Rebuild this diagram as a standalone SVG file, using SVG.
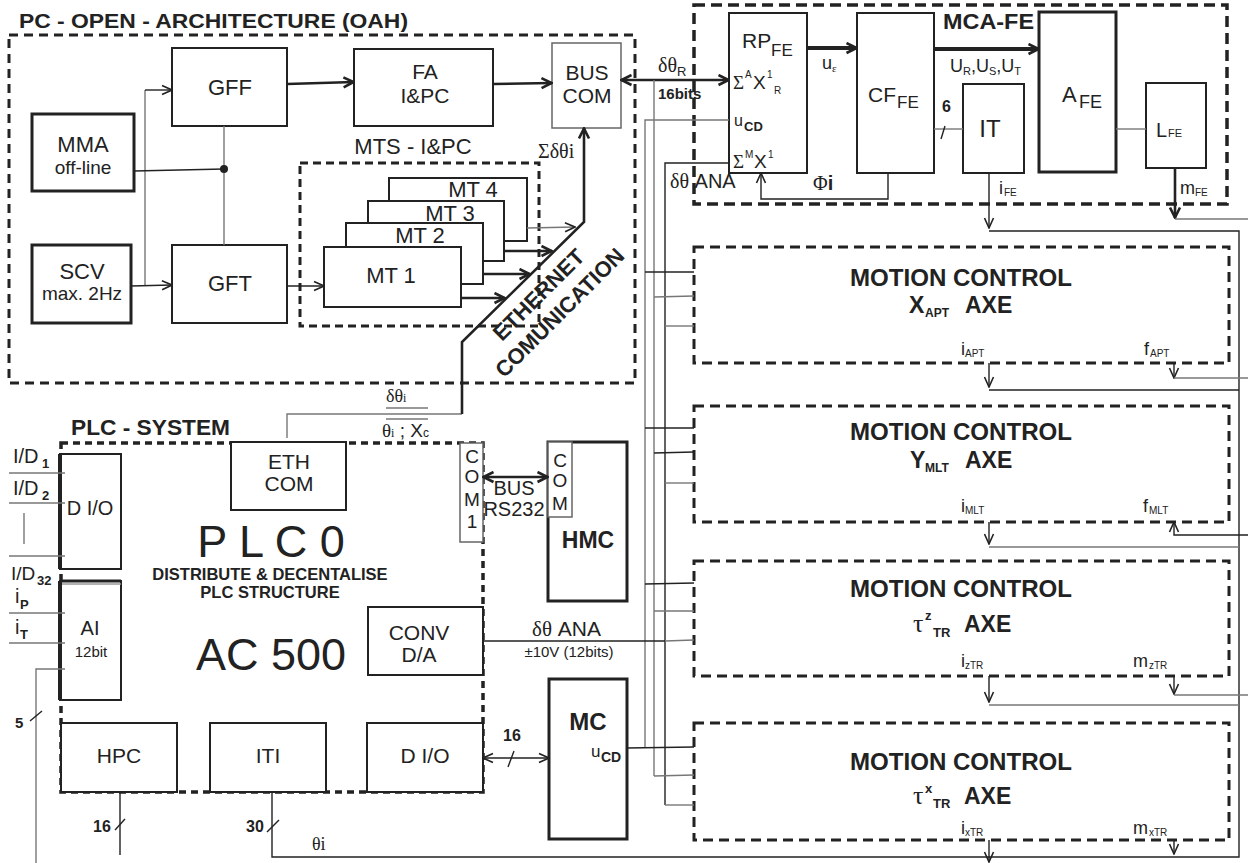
<svg xmlns="http://www.w3.org/2000/svg" width="1248" height="863" viewBox="0 0 1248 863">
<defs>
<marker id="a" viewBox="0 0 12 12" refX="11" refY="6" markerWidth="12" markerHeight="12" markerUnits="userSpaceOnUse" orient="auto-start-reverse">
<path d="M1,1.5 L11,6 L1,10.5" fill="none" stroke="#222" stroke-width="1.6"/>
</marker>
<marker id="ab" viewBox="0 0 13 13" refX="12" refY="6.5" markerWidth="13" markerHeight="13" markerUnits="userSpaceOnUse" orient="auto-start-reverse">
<path d="M1.5,1.5 L11.5,6.5 L1.5,11.5" fill="none" stroke="#222" stroke-width="2.6"/>
</marker>
</defs>
<style>
text{font-family:"Liberation Sans",Arial,Helvetica,sans-serif;fill:#222}
.s{font-family:"Liberation Serif","Times New Roman",serif}
.b{font-weight:bold}
.c{text-anchor:middle}
.box{fill:#fff;stroke:#222;stroke-width:2}
.bx3{fill:#fff;stroke:#222;stroke-width:3}
.gbox{fill:#fff;stroke:#666;stroke-width:1.5}
.dsh{fill:none;stroke:#222;stroke-width:3;stroke-dasharray:9 6}
.ln{fill:none;stroke:#222;stroke-width:1.4}
.gl{fill:none;stroke:#777;stroke-width:1.4}
.th{fill:none;stroke:#222;stroke-width:2.6}
.tk{fill:none;stroke:#222;stroke-width:4}
</style>
<rect width="1248" height="863" fill="#fff"/>

<!-- PC OPEN ARCHITECTURE -->
<g id="pc-oah">
<text x="19" y="28" class="b" font-size="21" textLength="389" lengthAdjust="spacingAndGlyphs">PC - OPEN - ARCHITECTURE (OAH)</text>
<rect x="9" y="35" width="626" height="348" class="dsh"/>
</g>
<g id="mts">
<rect x="300" y="163" width="239" height="163" fill="none" stroke="#222" stroke-width="3" stroke-dasharray="8 5"/>
<text x="413" y="154" class="c" font-size="22">MTS - I&amp;PC</text>
</g>
<g id="gff"><rect x="172" y="48" width="115" height="78" class="box"/><text x="230" y="95" class="c" font-size="22">GFF</text></g>
<g id="mma"><rect x="32" y="114" width="102" height="77" class="bx3"/><text x="83" y="152" class="c" font-size="22">MMA</text><text x="83" y="174" class="c" font-size="19">off-line</text></g>
<g id="scv"><rect x="32" y="245" width="99" height="78" class="bx3"/><text x="82" y="279" class="c" font-size="22">SCV</text><text x="82" y="300" class="c" font-size="19">max. 2Hz</text></g>
<g id="gft"><rect x="172" y="245" width="115" height="78" class="box"/><text x="230" y="291" class="c" font-size="22">GFT</text></g>
<g id="fa"><rect x="354" y="49" width="139" height="77" class="box"/><text x="425" y="79" class="c" font-size="21">FA</text><text x="425" y="103" class="c" font-size="21">I&amp;PC</text></g>
<g id="buscom"><rect x="552" y="43" width="69" height="85" class="gbox"/><text x="587" y="80" class="c" font-size="21">BUS</text><text x="587" y="103" class="c" font-size="21">COM</text></g>
<g id="mt4"><rect x="389" y="178" width="138" height="63" class="box" stroke-width="2.5"/><text x="473" y="197" class="c" font-size="22">MT 4</text></g>
<g id="mt3"><rect x="368" y="201" width="136" height="60" class="box" stroke-width="2.5"/><text x="450" y="221" class="c" font-size="22">MT 3</text></g>
<g id="mt2"><rect x="346" y="223" width="137" height="61" class="box" stroke-width="2.5"/><text x="420" y="243" class="c" font-size="22">MT 2</text></g>
<g id="mt1"><rect x="324" y="247" width="137" height="60" class="box" stroke-width="2.5"/><text x="391" y="283" class="c" font-size="22">MT 1</text></g>

<!-- PLC SYSTEM -->
<g id="plc-system">
<text x="71" y="435" class="b" font-size="22" textLength="159" lengthAdjust="spacingAndGlyphs">PLC - SYSTEM</text>
<rect x="61" y="443" width="422" height="349" fill="none" stroke="#222" stroke-width="3.5" stroke-dasharray="7 5"/>
<text x="271" y="557" class="c" font-size="45">P L C 0</text>
<text x="270" y="580" class="c b" font-size="16.5">DISTRIBUTE &amp; DECENTALISE</text>
<text x="270" y="598" class="c b" font-size="16.5">PLC STRUCTURE</text>
<text x="271" y="670" class="c" font-size="45">AC 500</text>
</g>
<g id="ethcom"><rect x="231" y="442" width="115" height="68" class="box"/><text x="289" y="469" class="c" font-size="21">ETH</text><text x="289" y="491" class="c" font-size="21">COM</text></g>
<g id="dio-left"><rect x="60" y="454" width="61" height="115" class="box"/><line x1="60" y1="454" x2="60" y2="569" stroke="#222" stroke-width="4"/><text x="90" y="515" class="c" font-size="20">D I/O</text></g>
<g id="ai"><rect x="60" y="581" width="61" height="119" class="box"/><line x1="60" y1="581" x2="60" y2="700" stroke="#222" stroke-width="4"/><line x1="60" y1="581" x2="121" y2="581" stroke="#222" stroke-width="3"/><line x1="62" y1="584" x2="121" y2="584" stroke="#999" stroke-width="1.5"/><text x="90" y="635" class="c" font-size="20">AI</text><text x="91" y="657" class="c" font-size="15">12bit</text></g>
<g id="hpc"><rect x="61" y="723" width="116" height="69" class="box"/><text x="119" y="763" class="c" font-size="21">HPC</text></g>
<g id="iti"><rect x="210" y="723" width="116" height="69" class="box"/><text x="268" y="763" class="c" font-size="21">ITI</text></g>
<g id="dio-right"><rect x="367" y="723" width="116" height="69" class="box"/><text x="425" y="763" class="c" font-size="21">D I/O</text></g>
<g id="convda"><rect x="368" y="607" width="115" height="68" class="box"/><text x="419" y="640" class="c" font-size="21">CONV</text><text x="419" y="662" class="c" font-size="21">D/A</text></g>
<g id="com1"><rect x="460" y="443" width="23" height="99" class="gbox"/>
<text x="472" y="463" class="c" font-size="19">C</text><text x="472" y="483" class="c" font-size="19">O</text><text x="472" y="506" class="c" font-size="19">M</text><text x="472" y="528" class="c" font-size="19">1</text></g>
<g id="hmc"><rect x="548" y="442" width="79" height="159" class="bx3"/><rect x="548" y="442" width="24" height="75" class="gbox"/>
<text x="560" y="467" class="c" font-size="19">C</text><text x="560" y="487" class="c" font-size="19">O</text><text x="560" y="510" class="c" font-size="19">M</text>
<text x="588" y="548" class="c b" font-size="23">HMC</text></g>
<g id="mc"><rect x="549" y="679" width="78" height="160" class="bx3"/><text x="588" y="730" class="c b" font-size="24">MC</text>
<text x="591" y="757" font-size="17">u</text><text x="601" y="762" class="b" font-size="14">CD</text></g>

<!-- MCA-FE -->
<g id="mca-fe">
<rect x="694" y="5" width="533" height="199" fill="none" stroke="#222" stroke-width="3.5" stroke-dasharray="11 6"/>
<text x="943" y="29" class="b" font-size="22" textLength="91" lengthAdjust="spacingAndGlyphs">MCA-FE</text>
</g>
<g id="rp-fe"><rect x="729" y="13" width="78" height="160" class="box" stroke-width="2.5"/>
<text x="742" y="48" font-size="21">RP</text><text x="771" y="56" font-size="17">FE</text>
<text x="733" y="89" class="s" font-size="19">Σ</text><text x="745" y="78" font-size="10">A</text><text x="753" y="89" font-size="19">X</text><text x="767" y="78" font-size="10">1</text><text x="774" y="94" font-size="10">R</text>
<text x="734" y="126" font-size="16">u</text><text x="744" y="131" class="b" font-size="13">CD</text>
<text x="733" y="168" class="s" font-size="19">Σ</text><text x="745" y="158" font-size="10">M</text><text x="754" y="168" font-size="19">X</text><text x="768" y="158" font-size="10">1</text>
</g>
<g id="cf-fe"><rect x="857" y="13" width="77" height="160" class="box" stroke-width="2.5"/><text x="868" y="102" font-size="21">CF</text><text x="897" y="108" font-size="17">FE</text></g>
<g id="a-fe"><rect x="1039" y="12" width="77" height="160" class="bx3"/><text x="1062" y="102" font-size="22">A</text><text x="1079" y="108" font-size="18">FE</text></g>
<g id="it"><rect x="963" y="84" width="61" height="89" class="box" stroke-width="2.5"/><text x="990" y="137" class="c" font-size="24">IT</text></g>
<g id="l-fe"><rect x="1146" y="83" width="60" height="85" class="box" stroke-width="2.5"/><text x="1156" y="137" font-size="20">L</text><text x="1168" y="137" font-size="11">FE</text></g>

<!-- MOTION CONTROL boxes -->
<g id="mc-xapt">
<rect x="694" y="247" width="535" height="116" fill="none" stroke="#222" stroke-width="3" stroke-dasharray="10 6"/>
<text x="961" y="286" class="c b" font-size="23" textLength="222" lengthAdjust="spacingAndGlyphs">MOTION CONTROL</text>
<text x="909" y="313" class="b" font-size="23">X</text><text x="925" y="317" class="b" font-size="12">APT</text><text x="965" y="313" class="b" font-size="23">AXE</text>
<text x="961" y="355" font-size="18">i</text><text x="965" y="357" font-size="10">APT</text>
<text x="1144" y="355" font-size="18">f</text><text x="1150" y="357" font-size="10">APT</text>
</g>
<g id="mc-ymlt">
<rect x="694" y="406" width="535" height="116" fill="none" stroke="#222" stroke-width="3" stroke-dasharray="10 6"/>
<text x="961" y="440" class="c b" font-size="23" textLength="222" lengthAdjust="spacingAndGlyphs">MOTION CONTROL</text>
<text x="910" y="468" class="b" font-size="23">Y</text><text x="925" y="472" class="b" font-size="12">MLT</text><text x="965" y="468" class="b" font-size="23">AXE</text>
<text x="961" y="512" font-size="18">i</text><text x="965" y="514" font-size="10">MLT</text>
<text x="1143" y="512" font-size="18">f</text><text x="1149" y="514" font-size="10">MLT</text>
</g>
<g id="mc-tauz">
<rect x="694" y="561" width="535" height="115" fill="none" stroke="#222" stroke-width="3" stroke-dasharray="10 6"/>
<text x="961" y="597" class="c b" font-size="23" textLength="222" lengthAdjust="spacingAndGlyphs">MOTION CONTROL</text>
<text x="913" y="632" class="s" font-size="26">τ</text><text x="925" y="620" class="b" font-size="13">z</text><text x="933" y="637" class="b" font-size="13">TR</text><text x="964" y="632" class="b" font-size="23">AXE</text>
<text x="961" y="667" font-size="18">i</text><text x="965" y="669" font-size="10">zTR</text>
<text x="1133" y="667" font-size="18">m</text><text x="1149" y="669" font-size="10">zTR</text>
</g>
<g id="mc-taux">
<rect x="694" y="723" width="535" height="117" fill="none" stroke="#222" stroke-width="3" stroke-dasharray="10 6"/>
<text x="961" y="770" class="c b" font-size="23" textLength="222" lengthAdjust="spacingAndGlyphs">MOTION CONTROL</text>
<text x="913" y="804" class="s" font-size="26">τ</text><text x="925" y="793" class="b" font-size="13">x</text><text x="933" y="808" class="b" font-size="13">TR</text><text x="964" y="804" class="b" font-size="23">AXE</text>
<text x="961" y="834" font-size="18">i</text><text x="965" y="836" font-size="10">xTR</text>
<text x="1133" y="834" font-size="18">m</text><text x="1149" y="836" font-size="10">xTR</text>
</g>

<!-- CONNECTORS -->
<g id="connectors">
<!-- OAH -->
<path d="M145,285 V90" class="gl"/>
<line x1="145" y1="90" x2="172" y2="90" class="ln" marker-end="url(#a)"/>
<line x1="131" y1="286" x2="172" y2="285" class="ln" marker-end="url(#a)"/>
<line x1="224" y1="126" x2="224" y2="245" class="gl"/>
<line x1="134" y1="171" x2="224" y2="169" class="ln" stroke-width="1.8"/>
<circle cx="224" cy="169" r="4" fill="#222"/>
<line x1="287" y1="84" x2="354" y2="82" class="th" marker-end="url(#ab)"/>
<line x1="493" y1="84" x2="552" y2="83" class="th" marker-end="url(#ab)"/>
<line x1="287" y1="286" x2="324" y2="286" class="ln" marker-end="url(#a)"/>
<line x1="527" y1="228" x2="575" y2="227" class="gl" marker-end="url(#a)"/>
<line x1="504" y1="251" x2="552" y2="251" class="th" marker-end="url(#ab)"/>
<line x1="483" y1="274" x2="530" y2="274" class="th" marker-end="url(#ab)"/>
<line x1="461" y1="298" x2="505" y2="298" class="th" marker-end="url(#ab)"/>
<path d="M287,438 V414 H462" class="gl"/>
<path d="M462,414 V342 L584,222 V128" class="th" marker-end="url(#ab)"/>
<text x="544" y="300" class="c b" font-size="22" transform="rotate(-45 544 300)">ETHERNET</text>
<text x="565" y="318" class="c b" font-size="22" transform="rotate(-45 565 318)">COMUNICATION</text>
<text x="538" y="158" class="s" font-size="20">Σδθi</text>
<line x1="621" y1="80" x2="729" y2="80" class="th" marker-start="url(#ab)" marker-end="url(#ab)"/>
<text x="658" y="72" class="s" font-size="20">δθ<tspan font-size="13" dy="4" font-family="Liberation Sans, Arial, sans-serif">R</tspan></text>
<text x="658" y="99" class="b" font-size="15">16bits</text>
<text x="386" y="402" class="s" font-size="18">δθ<tspan font-size="12">i</tspan></text>
<line x1="386" y1="408" x2="428" y2="408" class="gl"/>
<line x1="386" y1="419" x2="428" y2="419" class="gl"/>
<text x="382" y="437" font-size="19"><tspan class="s">θ</tspan><tspan font-size="12" class="s">i</tspan> ; X<tspan font-size="12">c</tspan></text>

<!-- MCA-FE internal -->
<line x1="807" y1="48" x2="857" y2="48" class="tk" marker-end="url(#ab)"/>
<text x="822" y="69" font-size="18">u</text><text x="832" y="72" class="s" font-size="11">ε</text>
<line x1="934" y1="49" x2="1039" y2="49" class="tk" marker-end="url(#ab)"/>
<text x="950" y="72" font-size="18">U<tspan font-size="11" dy="3">R</tspan><tspan dy="-3">,U</tspan><tspan font-size="11" dy="3">S</tspan><tspan dy="-3">,U</tspan><tspan font-size="11" dy="3">T</tspan></text>
<line x1="934" y1="129" x2="963" y2="129" class="gl"/>
<text x="942" y="112" class="b" font-size="16">6</text>
<line x1="941" y1="139" x2="945" y2="126" class="ln" stroke-width="2"/>
<line x1="1116" y1="129" x2="1146" y2="129" class="gl"/>
<path d="M888,173 V199 H761 V173" class="ln" marker-end="url(#a)"/>
<text x="813" y="190" font-size="20"><tspan class="s">Φ</tspan><tspan class="b">i</tspan></text>
<text x="670" y="188" font-size="20"><tspan class="s">δθ</tspan> ANA</text>
<line x1="989" y1="173" x2="989" y2="228" class="ln" marker-end="url(#a)"/>
<text x="999" y="194" font-size="18">i</text><text x="1004" y="196" font-size="10">FE</text>
<line x1="1175" y1="168" x2="1175" y2="218" class="th" marker-end="url(#ab)"/>
<text x="1180" y="194" font-size="18">m</text><text x="1195" y="196" font-size="10">FE</text>
<line x1="1175" y1="219" x2="1248" y2="219" class="gl"/>
<path d="M989,231 H1239 V857 H272 V792" class="ln"/>

<!-- bus verticals -->
<path d="M729,120 H645 V748" class="gl"/>
<path d="M654,80 V776" class="gl"/>
<path d="M729,163 H665 V805" class="ln"/>
<line x1="645" y1="272" x2="694" y2="272" class="ln"/>
<line x1="654" y1="297" x2="694" y2="296" class="gl"/>
<line x1="665" y1="326" x2="694" y2="326" class="gl"/>
<line x1="645" y1="428" x2="694" y2="428" class="ln"/>
<line x1="654" y1="453" x2="694" y2="452" class="ln"/>
<line x1="665" y1="483" x2="694" y2="483" class="gl"/>
<line x1="645" y1="584" x2="694" y2="583" class="ln"/>
<line x1="654" y1="611" x2="694" y2="611" class="gl"/>
<line x1="483" y1="641" x2="665" y2="641" class="ln"/>
<line x1="665" y1="641" x2="694" y2="640" class="gl"/>
<line x1="627" y1="748" x2="694" y2="747" class="ln"/>
<line x1="654" y1="776" x2="694" y2="775" class="gl"/>
<line x1="665" y1="805" x2="694" y2="805" class="gl"/>

<!-- MC outputs -->
<line x1="989" y1="363" x2="989" y2="387" class="ln" marker-end="url(#a)"/>
<line x1="989" y1="390" x2="1239" y2="390" class="ln"/>
<line x1="1174" y1="363" x2="1174" y2="378" class="ln" stroke-width="2" marker-end="url(#a)"/>
<line x1="1174" y1="378" x2="1248" y2="378" class="gl"/>
<line x1="989" y1="522" x2="989" y2="544" class="ln" marker-end="url(#a)"/>
<line x1="989" y1="547" x2="1239" y2="547" class="gl"/>
<path d="M1248,535 H1174 V522" class="ln" stroke-width="2" marker-end="url(#a)"/>
<line x1="989" y1="676" x2="989" y2="702" class="ln" marker-end="url(#a)"/>
<line x1="989" y1="705" x2="1239" y2="705" class="gl"/>
<line x1="1174" y1="676" x2="1174" y2="694" class="ln" stroke-width="2" marker-end="url(#a)"/>
<line x1="1174" y1="695" x2="1248" y2="695" class="gl"/>
<line x1="989" y1="840" x2="989" y2="862" class="ln" marker-end="url(#a)"/>
<line x1="1174" y1="840" x2="1174" y2="854" class="ln" stroke-width="2" marker-end="url(#a)"/>

<!-- PLC connectors -->
<line x1="483" y1="477" x2="548" y2="477" class="th" marker-start="url(#ab)" marker-end="url(#ab)"/>
<text x="514" y="495" class="c" font-size="20">BUS</text>
<text x="514" y="516" class="c" font-size="20">RS232</text>
<text x="532" y="636" font-size="21"><tspan class="s">δθ</tspan>  ANA</text>
<text x="569" y="657" class="c" font-size="15">±10V (12bits)</text>
<line x1="483" y1="758" x2="549" y2="758" class="ln" stroke-width="2" marker-start="url(#a)" marker-end="url(#a)"/>
<text x="503" y="741" class="b" font-size="16">16</text>
<line x1="508" y1="767" x2="514" y2="751" class="ln" stroke-width="1.6"/>

<!-- left I/O -->
<text x="13" y="463" font-size="20">I/D</text><text x="42" y="468" class="b" font-size="13">1</text>
<line x1="9" y1="473" x2="65" y2="473" class="gl"/>
<text x="13" y="495" font-size="20">I/D</text><text x="42" y="500" class="b" font-size="13">2</text>
<line x1="9" y1="503" x2="65" y2="503" class="gl"/>
<line x1="24" y1="513" x2="24" y2="544" class="gl"/>
<line x1="9" y1="556" x2="65" y2="556" class="gl"/>
<text x="11" y="580" font-size="19">I/D</text><text x="37" y="585" class="b" font-size="13">32</text>
<text x="15" y="603" font-size="20">i</text><text x="20" y="609" class="b" font-size="13">P</text>
<line x1="9" y1="613" x2="65" y2="613" class="gl"/>
<text x="15" y="634" font-size="20">i</text><text x="20" y="639" class="b" font-size="13">T</text>
<line x1="9" y1="643" x2="65" y2="643" class="gl"/>
<path d="M65,669 H36 V863" class="gl"/>
<text x="15" y="728" class="b" font-size="15">5</text>
<line x1="30" y1="721" x2="42" y2="711" class="ln" stroke-width="1"/>
<line x1="120" y1="792" x2="120" y2="855" class="ln"/>
<text x="93" y="832" class="b" font-size="16">16</text>
<line x1="115" y1="830" x2="125" y2="819" class="ln" stroke-width="1"/>
<text x="246" y="832" class="b" font-size="16">30</text>
<line x1="267" y1="832" x2="279" y2="820" class="ln" stroke-width="1"/>
<text x="312" y="850" class="s" font-size="18">θi</text>
</g>
</svg>
